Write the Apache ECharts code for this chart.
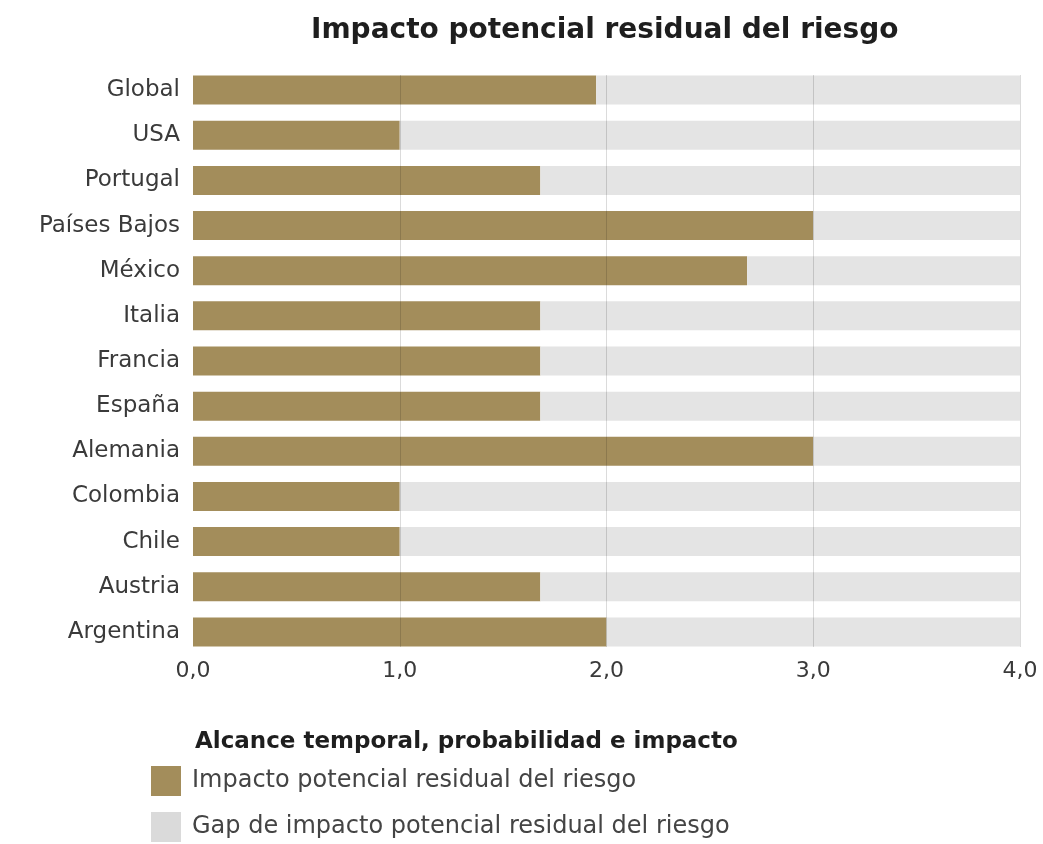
<!DOCTYPE html>
<html>
<head>
<meta charset="utf-8">
<script src="https://cdn.jsdelivr.net/npm/echarts@6/dist/echarts.min.js"></script>
<style>
  html, body { margin: 0; padding: 0; background: #ffffff; }
  #chart { width: 1043px; height: 844px; }
</style>
</head>
<body>
<div id="chart"></div>
<script>
// Countries, top to bottom
const countries = ['Global', 'USA', 'Portugal', 'Países Bajos', 'México', 'Italia', 'Francia',
  'España', 'Alemania', 'Colombia', 'Chile', 'Austria', 'Argentina'];
// Residual potential impact score per country (scale 0–4)
const impactValues = [1.95, 1.0, 1.68, 3.0, 2.68, 1.68, 1.68, 1.68, 3.0, 1.0, 1.0, 1.68, 2.0];
// Top of the scale; the gap series fills each bar up to it
const scaleMax = 4;
const gapValues = impactValues.map(v => +(scaleMax - v).toFixed(2));
const xTicks = [0, 1, 2, 3, 4];

const seriesNames = ['Impacto potencial residual del riesgo', 'Gap de impacto potencial residual del riesgo'];
const seriesColors = ['#a38d5b', '#e4e4e4'];
const legendSwatches = ['#a38d5b', '#dadada'];
const FONT = 'DejaVu Sans';
const fmt = v => v.toFixed(1).replace('.', ',');

// one legend block per entry, stacked vertically
const legendTops = [761, 807];
const legends = seriesNames.map((name, i) => ({
  left: 146, top: legendTops[i],
  itemWidth: 30, itemHeight: 30,
  icon: 'rect',
  selectedMode: false,
  data: [{ name: name, itemStyle: { color: legendSwatches[i] } }],
  textStyle: { fontFamily: FONT, fontSize: 24, color: '#444444', padding: [0, 0, 0, 6] }
}));

const chart = echarts.init(document.getElementById('chart'), null, { renderer: 'canvas' });
chart.setOption({
  backgroundColor: '#ffffff',
  animation: false,
  textStyle: { fontFamily: FONT },
  title: [
    {
      text: 'Impacto potencial residual del riesgo',
      left: 306, top: 12,
      textStyle: { fontFamily: FONT, fontSize: 28, fontWeight: 'bold', color: '#1e1e1e' }
    },
    {
      text: 'Alcance temporal, probabilidad e impacto',
      left: 190, top: 726,
      textStyle: { fontFamily: FONT, fontSize: 23, fontWeight: 'bold', color: '#1e1e1e' }
    }
  ],
  legend: legends,
  grid: [
    { left: 193, right: 23, top: 67.5, bottom: 189.5 },
    // thin overlay carrying the vertical rules, drawn above the bars
    { left: 193, right: 23, top: 75, bottom: 197 }
  ],
  xAxis: [
    {
      gridIndex: 0, type: 'value', min: xTicks[0], max: xTicks[xTicks.length - 1], interval: 1,
      axisLine: { show: false }, axisTick: { show: false }, splitLine: { show: false },
      axisLabel: { formatter: fmt, fontFamily: FONT, fontSize: 22, color: '#3a3a3a', margin: 6 }
    },
    {
      gridIndex: 1, type: 'value', min: xTicks[0], max: xTicks[xTicks.length - 1], interval: 1,
      z: 5,
      axisLine: { show: false }, axisTick: { show: false }, axisLabel: { show: false },
      splitLine: {
        show: true,
        lineStyle: {
          width: 1,
          color: ['rgba(0,0,0,0)', 'rgba(0,0,0,0.14)', 'rgba(0,0,0,0.14)', 'rgba(0,0,0,0.14)', 'rgba(0,0,0,0.14)']
        }
      }
    }
  ],
  yAxis: [
    {
      gridIndex: 0, type: 'category', data: countries, inverse: true,
      axisLine: { show: false }, axisTick: { show: false }, splitLine: { show: false },
      axisLabel: { fontFamily: FONT, fontSize: 23, color: '#3a3a3a', margin: 13 }
    },
    {
      gridIndex: 1, type: 'value', show: false
    }
  ],
  series: [
    {
      name: seriesNames[0], type: 'bar', stack: 'total', xAxisIndex: 0, yAxisIndex: 0,
      barWidth: 29, data: impactValues,
      itemStyle: { color: seriesColors[0] }
    },
    {
      name: seriesNames[1], type: 'bar', stack: 'total', xAxisIndex: 0, yAxisIndex: 0,
      barWidth: 29, data: gapValues,
      itemStyle: { color: seriesColors[1] }
    }
  ]
});
</script>
</body>
</html>
